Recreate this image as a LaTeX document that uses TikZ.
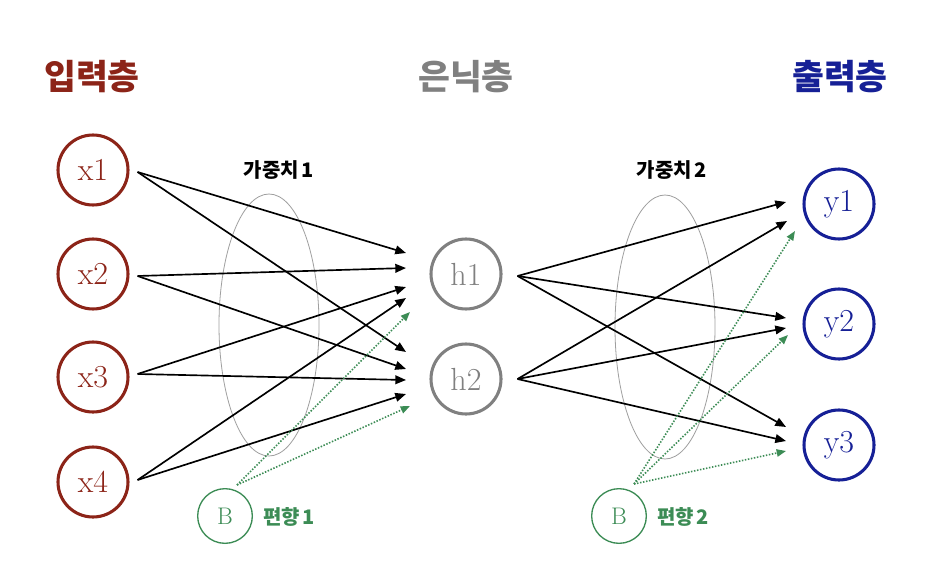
\documentclass[tikz,border=0pt]{standalone}
\usepackage{fontspec}
\newfontfamily\kr{Noto Sans CJK KR}
\usetikzlibrary{arrows.meta,calc}
\definecolor{inred}{RGB}{140,36,24}
\definecolor{hidgray}{RGB}{128,128,128}
\definecolor{outblue}{RGB}{22,32,150}
\definecolor{biasgreen}{RGB}{60,140,85}
\begin{document}
\begin{tikzpicture}[x=0.75pt,y=-0.75pt,
  neuron/.style={circle,draw,line width=2.3pt,minimum size=52.5pt,inner sep=0pt,font=\fontsize{24}{24}\selectfont},
  biasnode/.style={circle,draw=biasgreen,line width=1pt,minimum size=41pt,inner sep=0pt,text=biasgreen,font=\fontsize{18}{18}\selectfont},
  layerlabel/.style={font=\kr\bfseries\fontsize{26}{26}\selectfont},
  weightlabel/.style={font=\kr\bfseries\fontsize{15}{15}\selectfont},
  wire/.style={line width=1.25pt,-{Triangle[length=8pt,width=6.5pt]}},
  biaswire/.style={biasgreen,line width=1.2pt,dash pattern=on 1.1pt off 1.2pt,-{Triangle[length=7pt,width=5.5pt]}},
  grp/.style={draw=gray!75,line width=0.6pt}]
\useasboundingbox (0,0) rectangle (931,581);
\fill[white] (0,0) rectangle (931,581);

% layer titles
\node[layerlabel,text=inred]   (tin)  at (92,77)  {입력층};
\node[layerlabel,text=hidgray] (thid) at (466,77) {은닉층};
\node[layerlabel,text=outblue] (tout) at (840,77) {출력층};

% weight groups
\draw[grp] (269,325) ellipse [x radius=50, y radius=131];
\draw[grp] (665,327) ellipse [x radius=50, y radius=132];
\node[weightlabel] (w1) at (279,170) {가중치\kern2pt 1};
\node[weightlabel] (w2) at (672,170) {가중치\kern2pt 2};

% neurons
\node[neuron,draw=inred,text=inred] (x1) at (93,170) {x1};
\node[neuron,draw=inred,text=inred] (x2) at (93,274) {x2};
\node[neuron,draw=inred,text=inred] (x3) at (93,377) {x3};
\node[neuron,draw=inred,text=inred] (x4) at (93,482) {x4};
\node[neuron,draw=hidgray,text=hidgray] (h1) at (466,274) {h1};
\node[neuron,draw=hidgray,text=hidgray] (h2) at (466,379) {h2};
\node[neuron,draw=outblue,text=outblue] (y1) at (839,204) {y1};
\node[neuron,draw=outblue,text=outblue] (y2) at (839,324) {y2};
\node[neuron,draw=outblue,text=outblue] (y3) at (839,445) {y3};

% bias nodes
\node[biasnode] (b1) at (225,516) {B};
\node[biasnode] (b2) at (619,516) {B};
\node[weightlabel,text=biasgreen] (bl1) at (289,517) {편향\kern2pt 1};
\node[weightlabel,text=biasgreen] (bl2) at (683,517) {편향\kern2pt 2};

% start points
\coordinate (x1s) at ($(x1.east)+(8,2)$);
\coordinate (x2s) at ($(x2.east)+(8,2)$);
\coordinate (x3s) at ($(x3.east)+(8,-3)$);
\coordinate (x4s) at ($(x4.east)+(8,-2)$);
\coordinate (h1s) at ($(h1.east)+(15,2)$);
\coordinate (h2s) at ($(h2.east)+(15,0)$);
\coordinate (b1s) at ($(b1.north)+(12,-3)$);
\coordinate (b2s) at ($(b2.north)+(15,-4)$);

% end points
\coordinate (h1a) at (406,253); \coordinate (h1b) at (406,268);
\coordinate (h1c) at (406,287); \coordinate (h1d) at (406,298);
\coordinate (h1e) at (410,312);
\coordinate (h2a) at (406,352); \coordinate (h2b) at (406,369);
\coordinate (h2c) at (406,380); \coordinate (h2d) at (406,394);
\coordinate (h2e) at (410,406);
\coordinate (y1a) at (786,202); \coordinate (y1b) at (787,221); \coordinate (y1e) at (795,231);
\coordinate (y2a) at (786,318); \coordinate (y2b) at (786,328); \coordinate (y2e) at (788,335);
\coordinate (y3a) at (786,427); \coordinate (y3b) at (786,441); \coordinate (y3e) at (786,451);

% input -> hidden
\draw[wire] (x1s) -- (h1a);
\draw[wire] (x1s) -- (h2a);
\draw[wire] (x2s) -- (h1b);
\draw[wire] (x2s) -- (h2b);
\draw[wire] (x3s) -- (h1c);
\draw[wire] (x3s) -- (h2c);
\draw[wire] (x4s) -- (h1d);
\draw[wire] (x4s) -- (h2d);
\draw[biaswire] (b1s) -- (h1e);
\draw[biaswire] (b1s) -- (h2e);

% hidden -> output
\draw[wire] (h1s) -- (y1a);
\draw[wire] (h1s) -- (y2a);
\draw[wire] (h1s) -- (y3a);
\draw[wire] (h2s) -- (y1b);
\draw[wire] (h2s) -- (y2b);
\draw[wire] (h2s) -- (y3b);
\draw[biaswire] (b2s) -- (y1e);
\draw[biaswire] (b2s) -- (y2e);
\draw[biaswire] (b2s) -- (y3e);
\end{tikzpicture}
\end{document}
